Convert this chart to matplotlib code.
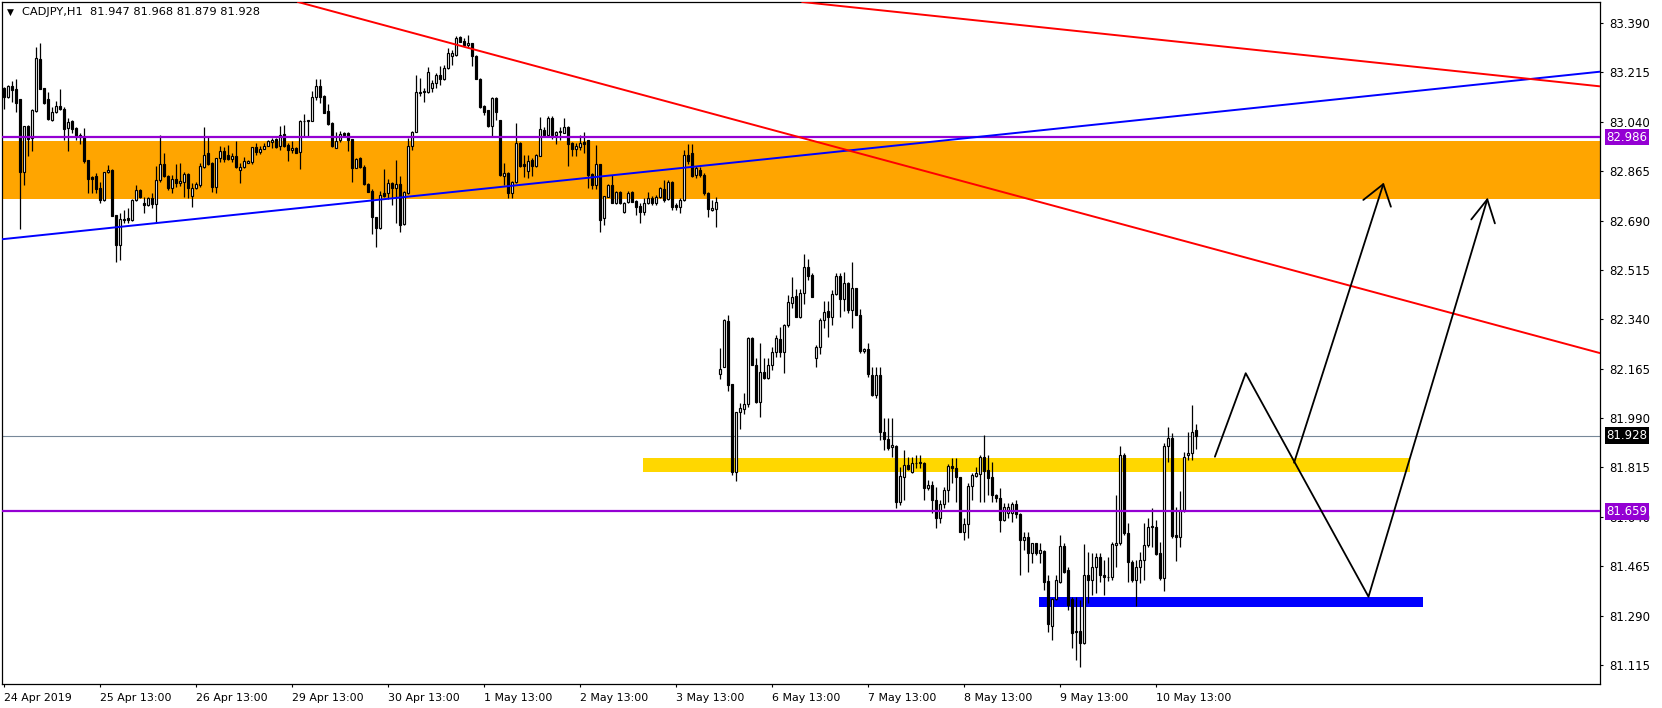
###############################################################################

# Required Libraries
import matplotlib
matplotlib.use("Agg")
import matplotlib.pyplot as plt
from matplotlib.patches import Rectangle
from matplotlib.transforms import blended_transform_factory
import numpy as np

###############################################################################

# CADJPY H1 candles, (open, high, low, close), one list per trading day
apr24 = [(83.158, 83.164, 83.087, 83.129), (83.129, 83.170, 83.125, 83.167), (83.167, 83.185, 83.111, 83.152),
         (83.155, 83.190, 83.073, 83.105), (83.120, 83.122, 82.660, 82.863), (82.863, 83.025, 82.816, 83.025),
         (83.025, 83.027, 82.920, 82.978), (82.981, 83.085, 82.937, 83.082), (83.079, 83.306, 83.076, 83.265),
         (83.262, 83.318, 83.155, 83.156), (83.158, 83.160, 83.103, 83.107)]
apr25 = [(83.119, 83.146, 83.046, 83.051), (83.048, 83.093, 83.043, 83.076), (83.074, 83.115, 83.070, 83.096),
         (83.096, 83.155, 83.082, 83.086), (83.087, 83.091, 82.975, 83.014), (83.017, 83.052, 82.937, 83.039),
         (83.044, 83.048, 82.999, 83.013), (83.018, 83.020, 82.975, 82.991), (82.985, 82.999, 82.961, 82.993),
         (82.987, 83.017, 82.895, 82.902), (82.904, 82.906, 82.789, 82.838), (82.845, 82.847, 82.789, 82.838),
         (82.848, 82.857, 82.786, 82.800), (82.805, 82.827, 82.753, 82.764), (82.764, 82.863, 82.760, 82.861),
         (82.861, 82.887, 82.857, 82.869), (82.869, 82.871, 82.705, 82.707), (82.709, 82.711, 82.542, 82.605),
         (82.605, 82.718, 82.550, 82.695), (82.695, 82.727, 82.680, 82.692), (82.698, 82.733, 82.680, 82.691),
         (82.691, 82.765, 82.689, 82.763), (82.763, 82.816, 82.760, 82.798), (82.798, 82.800, 82.769, 82.772)]
apr26 = [(82.751, 82.775, 82.718, 82.744), (82.746, 82.775, 82.741, 82.771), (82.771, 82.786, 82.733, 82.747),
         (82.750, 82.883, 82.680, 82.833), (82.833, 82.993, 82.827, 82.889), (82.889, 82.930, 82.845, 82.848),
         (82.848, 82.850, 82.798, 82.804), (82.804, 82.851, 82.789, 82.837), (82.836, 82.889, 82.810, 82.824),
         (82.824, 82.893, 82.812, 82.831), (82.828, 82.863, 82.774, 82.854), (82.854, 82.857, 82.769, 82.806),
         (82.778, 82.822, 82.737, 82.804), (82.804, 82.828, 82.800, 82.818), (82.815, 82.893, 82.810, 82.883),
         (82.881, 83.022, 82.877, 82.924), (82.928, 82.987, 82.887, 82.889), (82.893, 82.898, 82.792, 82.810),
         (82.810, 82.910, 82.789, 82.910), (82.910, 82.954, 82.898, 82.935), (82.935, 82.952, 82.898, 82.909),
         (82.922, 82.957, 82.904, 82.907), (82.907, 82.928, 82.898, 82.919), (82.919, 82.972, 82.875, 82.878)]
apr29 = [(82.869, 82.893, 82.822, 82.881), (82.878, 82.914, 82.875, 82.902), (82.895, 82.905, 82.893, 82.901),
         (82.897, 82.952, 82.889, 82.950), (82.950, 82.964, 82.922, 82.934), (82.932, 82.955, 82.925, 82.944),
         (82.944, 82.964, 82.942, 82.955), (82.955, 82.975, 82.954, 82.972), (82.970, 82.984, 82.946, 82.976),
         (82.978, 82.981, 82.948, 82.951), (82.953, 83.025, 82.940, 82.993), (82.996, 83.029, 82.952, 82.955),
         (82.958, 82.964, 82.902, 82.940), (82.940, 82.972, 82.928, 82.947), (82.947, 82.950, 82.928, 82.931),
         (82.934, 83.046, 82.873, 83.043), (83.041, 83.066, 82.987, 83.043), (83.043, 83.047, 82.990, 83.045),
         (83.044, 83.149, 83.041, 83.129), (83.127, 83.192, 83.117, 83.167), (83.167, 83.192, 83.105, 83.129),
         (83.131, 83.135, 83.072, 83.072), (83.078, 83.103, 83.029, 83.032), (83.037, 83.040, 82.952, 82.955)]
apr30 = [(82.946, 83.005, 82.946, 82.972), (82.974, 83.007, 82.970, 82.996), (82.999, 83.005, 82.987, 82.993),
         (82.999, 83.003, 82.937, 82.976), (82.978, 82.980, 82.828, 82.877), (82.877, 82.911, 82.875, 82.907),
         (82.911, 82.916, 82.877, 82.879), (82.879, 82.887, 82.816, 82.818), (82.818, 82.822, 82.790, 82.792),
         (82.796, 82.800, 82.642, 82.701), (82.701, 82.703, 82.598, 82.665), (82.662, 82.793, 82.660, 82.781),
         (82.787, 82.873, 82.775, 82.778), (82.786, 82.837, 82.766, 82.822), (82.822, 82.828, 82.745, 82.804),
         (82.807, 82.905, 82.680, 82.818), (82.818, 82.849, 82.651, 82.674), (82.677, 82.795, 82.674, 82.792),
         (82.787, 82.981, 82.783, 82.955), (82.955, 83.007, 82.940, 83.003), (83.005, 83.206, 83.003, 83.144),
         (83.143, 83.194, 83.133, 83.147), (83.149, 83.161, 83.111, 83.144), (83.144, 83.235, 83.141, 83.218)]
may01 = [(83.161, 83.188, 83.147, 83.176), (83.176, 83.212, 83.159, 83.206), (83.206, 83.239, 83.170, 83.190),
         (83.192, 83.241, 83.188, 83.229), (83.229, 83.300, 83.227, 83.283), (83.274, 83.294, 83.241, 83.283),
         (83.277, 83.344, 83.274, 83.338), (83.339, 83.344, 83.322, 83.324), (83.326, 83.336, 83.310, 83.312),
         (83.312, 83.348, 83.306, 83.318), (83.318, 83.320, 83.239, 83.273), (83.273, 83.275, 83.190, 83.192),
         (83.192, 83.195, 83.090, 83.094), (83.096, 83.098, 83.064, 83.076), (83.080, 83.082, 83.022, 83.025),
         (83.025, 83.129, 82.990, 83.123), (83.123, 83.127, 83.046, 83.076), (83.046, 83.048, 82.848, 82.851),
         (82.849, 82.893, 82.816, 82.857), (82.857, 82.863, 82.769, 82.787), (82.789, 82.831, 82.769, 82.828),
         (82.828, 83.034, 82.824, 82.964), (82.964, 82.970, 82.881, 82.883), (82.889, 82.922, 82.843, 82.883)]
may02 = [(82.867, 82.922, 82.840, 82.901), (82.905, 82.911, 82.848, 82.883), (82.883, 82.926, 82.881, 82.922),
         (82.920, 83.058, 82.917, 83.013), (83.011, 83.023, 82.987, 82.993), (82.993, 83.060, 82.987, 83.052),
         (83.052, 83.060, 82.978, 82.993), (82.993, 83.009, 82.962, 83.005), (83.004, 83.020, 82.976, 83.009),
         (83.001, 83.055, 82.999, 83.023), (83.023, 83.025, 82.883, 82.960), (82.964, 82.970, 82.917, 82.945),
         (82.945, 82.964, 82.917, 82.954), (82.952, 82.993, 82.940, 82.964), (82.967, 83.005, 82.928, 82.961),
         (82.975, 82.977, 82.804, 82.851), (82.855, 82.857, 82.801, 82.816), (82.816, 82.958, 82.801, 82.890),
         (82.890, 82.890, 82.651, 82.692), (82.698, 82.777, 82.674, 82.777), (82.775, 82.820, 82.772, 82.816),
         (82.816, 82.852, 82.751, 82.751), (82.751, 82.796, 82.749, 82.792), (82.792, 82.796, 82.749, 82.751)]
may03 = [(82.722, 82.757, 82.718, 82.751), (82.757, 82.796, 82.753, 82.789), (82.792, 82.794, 82.757, 82.757),
         (82.759, 82.763, 82.710, 82.737), (82.741, 82.751, 82.680, 82.722), (82.722, 82.769, 82.710, 82.751),
         (82.751, 82.792, 82.748, 82.769), (82.769, 82.777, 82.745, 82.751), (82.751, 82.781, 82.745, 82.775),
         (82.772, 82.810, 82.769, 82.804), (82.801, 82.834, 82.757, 82.763), (82.765, 82.834, 82.763, 82.828),
         (82.828, 82.830, 82.727, 82.739), (82.745, 82.751, 82.727, 82.737), (82.737, 82.769, 82.716, 82.763),
         (82.763, 82.940, 82.760, 82.924), (82.924, 82.960, 82.890, 82.900), (82.928, 82.961, 82.845, 82.849),
         (82.851, 82.885, 82.840, 82.875), (82.869, 82.880, 82.845, 82.851), (82.851, 82.858, 82.780, 82.789),
         (82.789, 82.792, 82.704, 82.730), (82.727, 82.763, 82.725, 82.733), (82.730, 82.772, 82.668, 82.757)]
may06 = [(82.145, 82.237, 82.127, 82.163), (82.172, 82.340, 82.170, 82.338), (82.335, 82.355, 82.087, 82.107),
         (82.111, 82.111, 81.788, 81.800), (81.800, 82.013, 81.768, 82.013), (82.013, 82.045, 81.950, 82.025),
         (82.022, 82.080, 82.005, 82.040), (82.040, 82.279, 82.028, 82.273), (82.273, 82.277, 82.178, 82.178),
         (82.178, 82.202, 82.045, 82.048), (82.048, 82.255, 81.995, 82.155), (82.155, 82.202, 82.127, 82.131),
         (82.131, 82.202, 82.127, 82.178), (82.178, 82.243, 82.160, 82.225), (82.225, 82.284, 82.208, 82.273),
         (82.269, 82.314, 82.208, 82.225), (82.225, 82.323, 82.151, 82.320), (82.320, 82.426, 82.314, 82.403),
         (82.399, 82.491, 82.379, 82.420), (82.423, 82.446, 82.347, 82.347), (82.347, 82.446, 82.344, 82.432),
         (82.432, 82.572, 82.394, 82.524), (82.524, 82.553, 82.479, 82.493), (82.497, 82.503, 82.420, 82.420)]
may07 = [(82.202, 82.249, 82.170, 82.241), (82.241, 82.343, 82.217, 82.338), (82.338, 82.405, 82.308, 82.367),
         (82.370, 82.405, 82.276, 82.349), (82.349, 82.444, 82.320, 82.430), (82.430, 82.503, 82.426, 82.494),
         (82.494, 82.505, 82.347, 82.411), (82.411, 82.509, 82.371, 82.468), (82.468, 82.471, 82.363, 82.373),
         (82.373, 82.544, 82.308, 82.450), (82.450, 82.452, 82.355, 82.355), (82.355, 82.375, 82.220, 82.226),
         (82.226, 82.237, 82.220, 82.234), (82.234, 82.255, 82.137, 82.146), (82.143, 82.172, 82.068, 82.072),
         (82.072, 82.172, 82.060, 82.143), (82.143, 82.172, 81.912, 81.942), (81.942, 81.989, 81.877, 81.915),
         (81.915, 81.989, 81.877, 81.883), (81.886, 81.989, 81.853, 81.895), (81.891, 81.895, 81.670, 81.694),
         (81.694, 81.818, 81.682, 81.785), (81.780, 81.877, 81.700, 81.824), (81.824, 81.853, 81.806, 81.808)]
may08 = [(81.800, 81.853, 81.797, 81.830), (81.830, 81.859, 81.812, 81.832), (81.830, 81.859, 81.812, 81.836),
         (81.832, 81.836, 81.700, 81.741), (81.741, 81.771, 81.735, 81.753), (81.753, 81.768, 81.653, 81.700),
         (81.700, 81.745, 81.599, 81.635), (81.635, 81.700, 81.617, 81.686), (81.686, 81.745, 81.670, 81.735),
         (81.735, 81.827, 81.694, 81.820), (81.820, 81.850, 81.759, 81.812), (81.812, 81.850, 81.694, 81.780),
         (81.780, 81.782, 81.587, 81.587), (81.587, 81.635, 81.558, 81.615), (81.615, 81.759, 81.564, 81.749),
         (81.749, 81.797, 81.700, 81.788), (81.785, 81.818, 81.782, 81.794), (81.792, 81.859, 81.694, 81.851),
         (81.851, 81.930, 81.694, 81.804), (81.806, 81.859, 81.718, 81.776), (81.780, 81.835, 81.694, 81.717),
         (81.717, 81.721, 81.694, 81.706), (81.706, 81.741, 81.587, 81.629), (81.629, 81.688, 81.627, 81.674)]
may09 = [(81.655, 81.688, 81.635, 81.674), (81.653, 81.694, 81.623, 81.686), (81.684, 81.700, 81.635, 81.650),
         (81.650, 81.653, 81.434, 81.558), (81.558, 81.587, 81.523, 81.568), (81.570, 81.587, 81.446, 81.513),
         (81.513, 81.549, 81.475, 81.546), (81.546, 81.549, 81.505, 81.511), (81.511, 81.546, 81.475, 81.523),
         (81.520, 81.523, 81.381, 81.410), (81.413, 81.434, 81.233, 81.260), (81.253, 81.351, 81.204, 81.348),
         (81.348, 81.434, 81.345, 81.416), (81.410, 81.576, 81.407, 81.537), (81.537, 81.546, 81.440, 81.446),
         (81.452, 81.463, 81.310, 81.328), (81.348, 81.357, 81.174, 81.227), (81.236, 81.357, 81.133, 81.231),
         (81.236, 81.345, 81.109, 81.192), (81.192, 81.544, 81.190, 81.434), (81.434, 81.517, 81.334, 81.416),
         (81.416, 81.511, 81.363, 81.463), (81.463, 81.511, 81.369, 81.499), (81.499, 81.511, 81.410, 81.434)]
may10 = [(81.434, 81.487, 81.363, 81.428), (81.428, 81.499, 81.411, 81.426), (81.426, 81.552, 81.416, 81.544),
         (81.541, 81.717, 81.463, 81.546), (81.546, 81.891, 81.541, 81.859), (81.859, 81.865, 81.576, 81.582),
         (81.582, 81.617, 81.410, 81.481), (81.481, 81.487, 81.410, 81.416), (81.416, 81.487, 81.324, 81.463),
         (81.463, 81.517, 81.404, 81.487), (81.487, 81.617, 81.416, 81.540), (81.540, 81.635, 81.534, 81.605),
         (81.608, 81.670, 81.534, 81.603), (81.605, 81.629, 81.505, 81.508), (81.511, 81.552, 81.416, 81.422),
         (81.422, 81.900, 81.378, 81.891), (81.891, 81.960, 81.836, 81.918), (81.918, 81.936, 81.564, 81.572),
         (81.576, 81.676, 81.485, 81.568), (81.568, 81.733, 81.532, 81.664), (81.664, 81.871, 81.658, 81.853),
         (81.859, 81.942, 81.842, 81.867), (81.867, 82.036, 81.842, 81.942), (81.947, 81.968, 81.879, 81.928)]

# Axis labels
time_labels = ['24 Apr 2019', '25 Apr 13:00', '26 Apr 13:00', '29 Apr 13:00', '30 Apr 13:00',
               '1 May 13:00', '2 May 13:00', '3 May 13:00', '6 May 13:00', '7 May 13:00',
               '8 May 13:00', '9 May 13:00', '10 May 13:00']
price_ticks = [83.390, 83.215, 83.040, 82.865, 82.690, 82.515, 82.340,
               82.165, 81.990, 81.815, 81.640, 81.465, 81.290, 81.115]

# Chart objects (bar index, price)
resistance_zone = [82.765, 82.972]                 # orange band
pivot_zone = [159.8, 351.6, 81.800, 81.850]        # gold box: bar from, bar to, low, high
support_zone = [258.8, 354.8, 81.319, 81.357]      # blue box
levels = [82.986, 81.659]                          # purple horizontal lines
last_price = 81.928
blue_trend = [(-0.925, 82.623), (398.1, 83.216)]
red_trend_1 = [(94.1, 83.386), (398.1, 82.224)]
red_trend_2 = [(202.6, 83.460), (398.1, 83.167)]
path_1 = [(302.8, 81.853), (310.5, 82.149), (341.2, 81.357), (370.9, 82.765)]
head_1 = [(366.9, 82.694), (370.9, 82.765), (372.8, 82.680)]
path_2 = [(322.6, 81.832), (344.9, 82.819)]
head_2 = [(339.9, 82.763), (344.9, 82.819), (346.8, 82.739)]

###############################################################################

ohlc = np.array(apr24 + apr25 + apr26 + apr29 + apr30 + may01 + may02 + may03 +
                may06 + may07 + may08 + may09 + may10)
o, h, l, c = ohlc[:, 0], ohlc[:, 1], ohlc[:, 2], ohlc[:, 3]
idx = np.arange(len(ohlc))

W, H = 1662, 708
fig = plt.figure(figsize=(W / 100, H / 100), dpi=100)
ax = fig.add_axes([2 / W, 24 / H, 1598 / W, 682 / H])
ax.set_xlim(-0.425, 399.075)
ax.set_ylim(81.0477, 83.4644)

# zones
ax.axhspan(resistance_zone[0], resistance_zone[1], color='#FFA500', lw=0, zorder=0.5)
ax.add_patch(Rectangle((pivot_zone[0], pivot_zone[2]), pivot_zone[1] - pivot_zone[0],
                       pivot_zone[3] - pivot_zone[2], color='#FFD700', lw=0, zorder=0.6))
ax.add_patch(Rectangle((support_zone[0], support_zone[2]), support_zone[1] - support_zone[0],
                       support_zone[3] - support_zone[2], color='#0000FF', lw=0, zorder=0.6))

ax.axhline(last_price, color='#778899', lw=0.8, zorder=0.8)

# candles
ax.vlines(idx, l, h, color='black', lw=0.9, zorder=2)
body_lo = np.minimum(o, c)
body_h = np.maximum(np.abs(c - o), 0.0015)
face = np.where(c >= o, 'white', 'black')
ax.bar(idx, body_h, bottom=body_lo, width=0.55, color=face, edgecolor='black',
       linewidth=0.85, zorder=3)

# lines
for lv in levels:
    ax.axhline(lv, color='#9400D3', lw=1.6, zorder=4)
ax.axline(blue_trend[0], blue_trend[1], color='#0000FF', lw=1.4, zorder=4)
ax.axline(red_trend_1[0], red_trend_1[1], color='#FF0000', lw=1.4, zorder=4)
ax.axline(red_trend_2[0], red_trend_2[1], color='#FF0000', lw=1.4, zorder=4)

for pts in (path_1, head_1, path_2, head_2):
    px, py = zip(*pts)
    ax.plot(px, py, color='black', lw=1.3, zorder=5, solid_capstyle='round')

# axes styling
for s in ax.spines.values():
    s.set_linewidth(0.9)
    s.set_color('black')

ax.yaxis.tick_right()
ax.set_yticks(price_ticks)
ax.set_yticklabels([f'{p:.3f}' for p in price_ticks])
ax.tick_params(axis='y', direction='out', length=2.5, width=0.8, pad=4.5, labelsize=8.5)

ax.set_xticks(np.arange(0, len(time_labels) * 24, 24))
ax.set_xticklabels(time_labels)
ax.tick_params(axis='x', direction='out', length=2.5, width=0.8, pad=4, labelsize=7.9)
for lbl in ax.get_xticklabels():
    lbl.set_ha('left')

# price boxes on the scale
tr = blended_transform_factory(ax.transAxes, ax.transData)
for lv in levels:
    ax.text(1.004, lv, f'{lv:.3f}', transform=tr, color='white', fontsize=8.5, va='center',
            ha='left', clip_on=False, zorder=6,
            bbox=dict(boxstyle='square,pad=0.15', fc='#9400D3', ec='none'))
ax.text(1.004, last_price, f'{last_price:.3f}', transform=tr, color='white', fontsize=8.5,
        va='center', ha='left', clip_on=False, zorder=6,
        bbox=dict(boxstyle='square,pad=0.15', fc='black', ec='none'))

# header
fig.text(7 / W, 1 - 12 / H, '\u25bc', fontsize=6.5, va='center', ha='left')
fig.text(22 / W, 1 - 12 / H, 'CADJPY,H1  %.3f %.3f %.3f %.3f' % (o[-1], h[-1], l[-1], c[-1]),
         fontsize=8.2, va='center', ha='left')

fig.savefig('out.png', dpi=100)
